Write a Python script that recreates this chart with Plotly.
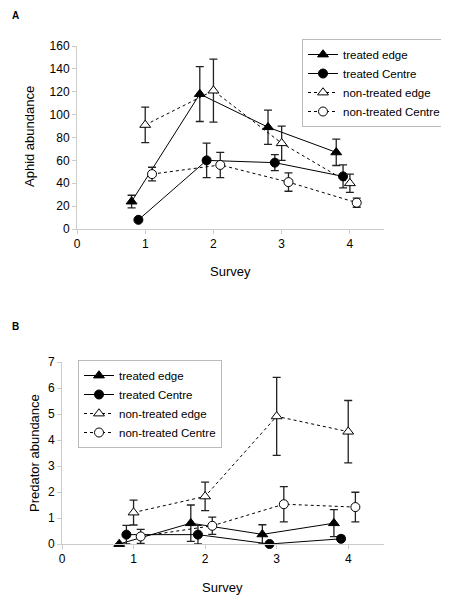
import plotly.graph_objects as go

# ---------------- data ----------------
series_names = ["treated edge", "treated Centre", "non-treated edge", "non-treated Centre"]
x_offsets = [-0.2, -0.1, 0.0, 0.1]
surveys = [1, 2, 3, 4]

aphid_treated_edge = [24, 118, 89, 67]
aphid_treated_edge_err = [5.5, 24, 15, 11.5]
aphid_treated_centre = [8, 60, 58, 46]
aphid_treated_centre_err = [0, 15, 7, 10]
aphid_nontreated_edge = [91, 121, 75, 40]
aphid_nontreated_edge_err = [15.5, 27.5, 15, 8]
aphid_nontreated_centre = [48, 56, 41, 23]
aphid_nontreated_centre_err = [6, 11, 8, 4]

pred_treated_edge = [0, 0.8, 0.37, 0.8]
pred_treated_edge_err = [0, 0.7, 0.37, 0.52]
pred_treated_centre = [0.36, 0.36, 0.0, 0.2]
pred_treated_centre_err = [0.36, 0.36, 0, 0.1]
pred_nontreated_edge = [1.21, 1.83, 4.91, 4.32]
pred_nontreated_edge_err = [0.48, 0.55, 1.5, 1.2]
pred_nontreated_centre = [0.29, 0.70, 1.53, 1.42]
pred_nontreated_centre_err = [0.27, 0.33, 0.68, 0.57]

aphid_vals = [aphid_treated_edge, aphid_treated_centre, aphid_nontreated_edge, aphid_nontreated_centre]
aphid_errs = [aphid_treated_edge_err, aphid_treated_centre_err, aphid_nontreated_edge_err, aphid_nontreated_centre_err]
pred_vals = [pred_treated_edge, pred_treated_centre, pred_nontreated_edge, pred_nontreated_centre]
pred_errs = [pred_treated_edge_err, pred_treated_centre_err, pred_nontreated_edge_err, pred_nontreated_centre_err]

x_ticks = [0, 1, 2, 3, 4]

# ---------------- styles ----------------
symbols = ["triangle-up", "circle", "triangle-up", "circle"]
fills = ["black", "black", "white", "white"]
dashes = ["solid", "solid", "dot", "dot"]
sizes = [9.5, 9, 9.5, 9]

FONT = "Liberation Sans, Arial, sans-serif"
OFF = 8  # page body margin
W, H = 449 - OFF, 598 - OFF

fig = go.Figure()

def add_panel(vals, errs, xa, ya, legend):
    for i in range(4):
        xs = [s + x_offsets[i] for s in surveys]
        fig.add_trace(go.Scatter(
            x=xs, y=vals[i], name=series_names[i], mode="lines+markers",
            xaxis=xa, yaxis=ya, legend=legend, cliponaxis=False,
            line=dict(color="black", width=1, dash=dashes[i]),
            marker=dict(symbol=symbols[i], size=sizes[i], color=fills[i],
                        line=dict(color="black", width=1)),
            error_y=dict(type="data", array=errs[i], visible=True,
                         color="#222222", thickness=1.3, width=4),
        ))

add_panel(aphid_vals, aphid_errs, "x", "y", "legend")
add_panel(pred_vals, pred_errs, "x2", "y2", "legend2")

def px_x(p):
    return (p - OFF) / W

def px_y(p):
    return 1 - (p - OFF) / H

axis_common = dict(showgrid=False, zeroline=False, showline=True, linecolor="#cccccc",
                   linewidth=1, ticks="outside", tickcolor="#cccccc", ticklen=4,
                   automargin=False,
                   tickfont=dict(family=FONT, size=12, color="black"))

leg_common = dict(font=dict(family=FONT, size=11.5, color="black"), bgcolor="white",
                  bordercolor="#bbbbbb", borderwidth=1, xanchor="left", yanchor="top",
                  tracegroupgap=0, itemwidth=30)

fig.update_layout(
    width=W, height=H, margin=dict(l=0, r=0, t=0, b=0),
    paper_bgcolor="white", plot_bgcolor="white",
    font=dict(family=FONT, size=12, color="black"),
    xaxis=dict(domain=[px_x(77), px_x(384)], range=[0, 4.5], tickvals=x_ticks,
               anchor="y", **axis_common),
    yaxis=dict(domain=[px_y(229), px_y(46)], range=[0, 160], dtick=20,
               anchor="x", **axis_common),
    xaxis2=dict(domain=[px_x(62), px_x(384)], range=[0, 4.5], tickvals=x_ticks,
                anchor="y2", **axis_common),
    yaxis2=dict(domain=[px_y(544), px_y(362)], range=[0, 7], dtick=1,
                anchor="x2", **axis_common),
    legend=dict(x=px_x(302), y=px_y(39), **leg_common),
    legend2=dict(x=px_x(78), y=px_y(360), **leg_common),
    showlegend=True,
)

annots = [
    dict(text="<b>A</b>", x=px_x(10), y=1.0, xanchor="left", yanchor="top", font=dict(size=10)),
    dict(text="<b>B</b>", x=px_x(10), y=px_y(326), xanchor="left", yanchor="middle", font=dict(size=10)),
    dict(text="Aphid abundance", x=px_x(29), y=px_y(137), textangle=-90, xanchor="center", yanchor="middle", font=dict(size=13)),
    dict(text="Predator abundance", x=px_x(34), y=px_y(453), textangle=-90, xanchor="center", yanchor="middle", font=dict(size=13)),
    dict(text="Survey", x=px_x(230), y=px_y(271), xanchor="center", yanchor="middle", font=dict(size=13)),
    dict(text="Survey", x=px_x(222), y=px_y(587), xanchor="center", yanchor="middle", font=dict(size=13)),
]
for a in annots:
    a.update(xref="paper", yref="paper", showarrow=False)
    a["font"] = dict(family=FONT, color="black", size=a["font"]["size"])
fig.update_layout(annotations=annots)

fig.write_html("out.html")
